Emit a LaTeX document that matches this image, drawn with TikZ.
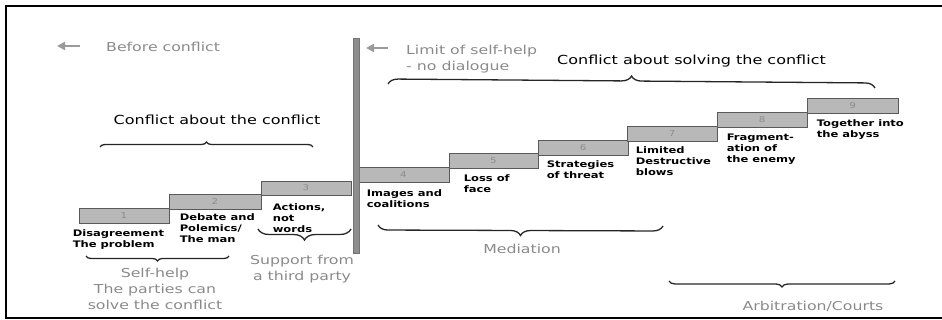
\documentclass[tikz,border=0pt]{standalone}
\usepackage{fontspec}
\usetikzlibrary{decorations.pathreplacing,arrows.meta}
\newfontfamily\labfont{DejaVu Sans}[FakeStretch=1.28]
\definecolor{boxfill}{HTML}{B8B8B8}
\definecolor{boxline}{HTML}{5A5A5A}
\definecolor{barfill}{HTML}{8E8E8E}
\definecolor{softtext}{HTML}{8A8A8A}
\definecolor{arrowgray}{HTML}{9A9A9A}
\begin{document}
\begin{tikzpicture}[x=1pt,y=-1pt,
  stepbox/.style={draw=boxline, line width=0.8pt, fill=boxfill, inner sep=0pt,
    font=\labfont\fontsize{8}{9}\selectfont, text=black!45},
  lab/.style={anchor=north west, align=left, inner sep=0pt,
    font=\labfont\bfseries\fontsize{9}{11.3}\selectfont},
  soft/.style={text=softtext, inner sep=0pt, font=\labfont\fontsize{12.3}{16}\selectfont},
  head/.style={text=black, inner sep=0pt, font=\labfont\fontsize{12.5}{15}\selectfont},
  bracel/.style={decorate, decoration={brace, amplitude=#1}, line width=1.3pt, draw=black!85},
  backarrow/.style={-{Triangle[length=8pt,width=8pt]}, line width=2pt, draw=arrowgray},
]
\useasboundingbox (0,0) rectangle (942,320);
% frame
\draw[line width=2pt] (943,6) -- (6,6) -- (6,318) -- (943,318);
% steps
\foreach \i/\xl/\xr/\yt/\yb in {1/79/169/208/223, 2/169/261/194/209, 3/261/351/181/195,
    4/358/449/167/182, 5/449/538/153/168, 6/538/628/140/155, 7/627/717/126/141,
    8/717/807/112/127, 9/807/898/98/113}
  \node[stepbox, minimum width={\xr-\xl}, minimum height={\yb-\yt}] (s\i)
    at ({(\xl+\xr)/2},{(\yt+\yb)/2}) {\i};
% separator bar
\node[draw=black!55, fill=barfill, minimum width=6pt, minimum height=215pt, inner sep=0pt]
  (bar) at (356,145.5) {};
% step labels
\node[lab] (l1) at ([xshift=-6pt,yshift=-4.5pt]s1.south west) {\strut Disagreement\\The problem};
\node[lab] (l2) at ([xshift=11pt,yshift=-2.5pt]s2.south west) {\strut Debate and\\Polemics/\\The man};
\node[lab] (l3) at ([xshift=12pt,yshift=-6.5pt]s3.south west) {\strut Actions,\\not\\words};
\node[lab] (l4) at ([xshift=9pt,yshift=-5.5pt]s4.south west) {\strut Images and\\coalitions};
\node[lab] (l5) at ([xshift=15pt,yshift=-4.5pt]s5.south west) {\strut Loss of\\face};
\node[lab] (l6) at ([xshift=9pt,yshift=-3.5pt]s6.south west) {\strut Strategies\\of threat};
\node[lab] (l7) at ([xshift=9pt,yshift=-3.5pt]s7.south west) {\strut Limited\\Destructive\\blows};
\node[lab] (l8) at ([xshift=10pt,yshift=-4.5pt]s8.south west) {\strut Fragment-\\ation of\\the enemy};
\node[lab] (l9) at ([xshift=10pt,yshift=-4.5pt]s9.south west) {\strut Together into\\the abyss};
% arrows
\coordinate (a1s) at (80,46); \coordinate (a1e) at (57,46);
\draw[backarrow] (a1s) -- (a1e);
\coordinate (a2s) at (388,48); \coordinate (a2e) at (366,48);
\draw[backarrow] (a2s) -- (a2e);
% texts
\node[soft, anchor=base west] (before) at (106,52) {Before conflict};
\node[soft, anchor=north west, align=left] (limit) at (406,42.8) {\strut Limit of self-help\\- no dialogue};
\node[head, anchor=base] (h1) at (217,124.5) {Conflict about the conflict};
\node[head, anchor=base] (h2) at (691.5,64.5) {Conflict about solving the conflict};
\node[soft, anchor=base] (med) at (522,254) {Mediation};
\node[soft, anchor=base] (arb) at (813,310) {Arbitration/Courts};
\node[soft, anchor=north, align=center] (self) at (155,265.8) {\strut Self-help\\The parties can\\solve the conflict};
\node[soft, anchor=north, align=center] (supp) at (302,252.8) {\strut Support from\\a third party};
% braces
\coordinate (b1a) at (100,147); \coordinate (b1b) at (313,147);
\draw[bracel=5] (b1a) -- (b1b);
\coordinate (b2a) at (388,84); \coordinate (b2b) at (875,88);
\draw[bracel=10] (b2a) -- (b2b);
\coordinate (b3a) at (229,256); \coordinate (b3b) at (86,256);
\draw[bracel=5] (b3a) -- (b3b);
\coordinate (b4a) at (351,229); \coordinate (b4b) at (258,229);
\draw[bracel=11] (b4a) -- (b4b);
\coordinate (b5a) at (663,226); \coordinate (b5b) at (378,225);
\draw[bracel=10] (b5a) -- (b5b);
\coordinate (b6a) at (895,281); \coordinate (b6b) at (669,281);
\draw[bracel=6] (b6a) -- (b6b);
\end{tikzpicture}
\end{document}
